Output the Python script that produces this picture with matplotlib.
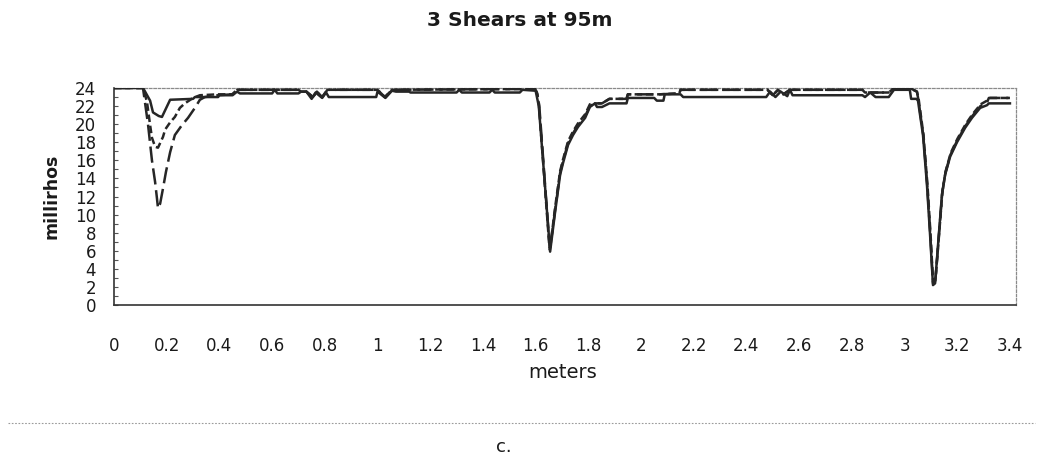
import matplotlib
matplotlib.use("Agg")
import matplotlib.pyplot as plt
from matplotlib.lines import Line2D
from matplotlib.ticker import MultipleLocator, FixedLocator

plt.rcParams['font.family'] = ['DejaVu Sans']

# Conductivity profiles (millirhos) along the sample (meters) for three shears
shear_1_m = [0.0, 0.11, 0.118, 0.137, 0.148, 0.17, 0.182, 0.213, 0.30, 0.307, 0.395, 0.40,
             0.45, 0.467, 0.478, 0.60, 0.61, 0.62, 0.70, 0.71, 0.73, 0.75, 0.765, 0.79, 0.805,
             0.815, 0.995, 1.0, 1.03, 1.055, 1.07, 1.12, 1.125, 1.30, 1.31, 1.32, 1.425, 1.435,
             1.445, 1.54, 1.55, 1.60,
             1.612, 1.655, 1.674, 1.693, 1.704, 1.723, 1.742, 1.761, 1.788, 1.806, 1.825,
             1.833, 1.852, 1.88, 1.945, 1.95, 2.05, 2.06, 2.085, 2.09, 2.15, 2.16, 2.475, 2.49,
             2.51, 2.53, 2.555, 2.565, 2.575, 2.84, 2.85, 2.87, 2.89, 2.94, 2.96, 3.02, 3.025,
             3.045,
             3.051, 3.070, 3.085, 3.097, 3.108, 3.116, 3.127, 3.142, 3.154, 3.173, 3.199,
             3.230, 3.256, 3.287, 3.313, 3.32, 3.40]
shear_1_mS = [24.0, 24.0, 23.6, 22.6, 21.3, 20.9, 20.8, 22.7, 22.8, 23.0, 23.0, 23.2,
              23.2, 23.6, 23.4, 23.4, 23.8, 23.4, 23.4, 23.6, 23.6, 22.8, 23.5, 22.9, 23.5,
              23.0, 23.0, 23.6, 22.9, 23.7, 23.6, 23.6, 23.5, 23.5, 23.8, 23.5, 23.5, 23.8,
              23.5, 23.5, 23.8, 23.7,
              22.0, 5.9, 10.3, 14.4, 15.7, 17.7, 18.8, 19.7, 20.7, 21.9, 22.3,
              21.9, 21.9, 22.3, 22.3, 22.9, 22.9, 22.6, 22.6, 23.3, 23.3, 23.0, 23.0, 23.6,
              23.0, 23.6, 23.1, 23.8, 23.2, 23.2, 23.0, 23.5, 23.0, 23.0, 23.8, 23.8, 22.8,
              22.8,
              22.6, 18.8, 13.3, 7.7, 2.2, 2.4, 6.6, 12.2, 14.4, 16.4, 18.0,
              19.6, 20.7, 21.8, 22.1, 22.3, 22.3]

shear_2_m = [0.0, 0.11, 0.125, 0.137, 0.144, 0.156, 0.167, 0.186, 0.194, 0.213, 0.231, 0.25,
             0.269, 0.30, 0.326, 0.395, 0.448, 0.467, 0.70, 0.71, 0.73, 0.755, 0.77, 0.79,
             0.81, 1.0, 1.028, 1.055, 1.598,
             1.605, 1.612, 1.652, 1.655, 1.674, 1.693, 1.704, 1.723, 1.742, 1.761, 1.788,
             1.806, 1.825,
             1.833, 1.852, 1.88, 1.945, 1.95, 2.07, 2.145, 2.15, 2.48, 2.50, 2.52, 2.54, 2.565,
             2.84, 2.85, 2.94, 2.96, 3.02, 3.047,
             3.053, 3.072, 3.087, 3.099, 3.108, 3.118, 3.129, 3.144, 3.156, 3.175, 3.201,
             3.232, 3.258, 3.289, 3.313, 3.32, 3.40]
shear_2_mS = [24.0, 24.0, 22.5, 19.9, 18.5, 17.5, 17.4, 18.6, 19.4, 20.2, 20.8, 21.8,
              22.3, 22.9, 23.2, 23.3, 23.3, 23.8, 23.8, 23.6, 23.6, 23.0, 23.6, 23.0,
              23.8, 23.8, 23.0, 23.8, 23.9,
              23.5, 22.3, 6.5, 6.3, 10.8, 14.8, 16.1, 18.1, 19.2, 20.1, 21.1,
              22.2, 22.3,
              22.3, 22.3, 22.8, 22.8, 23.3, 23.3, 23.4, 23.8, 23.8, 23.2, 23.8, 23.3, 23.8,
              23.8, 23.5, 23.5, 24.0, 24.0, 23.6,
              22.9, 18.8, 13.3, 7.7, 2.6, 3.0, 7.0, 12.6, 14.8, 16.8, 18.4,
              20.0, 21.1, 22.2, 22.6, 22.9, 22.9]

shear_3_m = [0.0, 0.11, 0.129, 0.144, 0.156, 0.163, 0.167, 0.175, 0.186, 0.197, 0.213, 0.231,
             0.258, 0.281, 0.307, 0.326, 0.345, 0.395, 0.448, 0.467, 0.70, 0.71, 0.73, 0.755,
             0.77, 0.79, 0.81, 1.0, 1.028, 1.055, 1.598,
             1.607, 1.614, 1.654, 1.674, 1.693, 1.704, 1.723, 1.742, 1.761, 1.788, 1.806,
             1.825, 1.852, 1.88, 1.945, 1.95, 2.07, 2.145, 2.15, 2.48, 2.50, 2.52, 2.54, 2.565,
             2.84, 2.85, 2.94, 2.96, 3.02, 3.047,
             3.052, 3.071, 3.086, 3.098, 3.108, 3.117, 3.128, 3.143, 3.155, 3.174, 3.200,
             3.231, 3.257, 3.288, 3.313, 3.32, 3.40]
shear_3_mS = [24.0, 24.0, 20.0, 16.0, 13.6, 11.8, 10.7, 11.2, 12.9, 14.7, 16.9, 18.8,
              19.9, 20.7, 21.8, 22.7, 23.0, 23.2, 23.3, 23.8, 23.8, 23.6, 23.6, 23.0,
              23.6, 23.0, 23.8, 23.8, 23.0, 23.8, 23.9,
              23.3, 22.0, 6.1, 10.5, 14.6, 15.9, 17.9, 19.0, 19.9, 20.9, 22.0,
              22.3, 22.3, 22.8, 22.8, 23.3, 23.3, 23.4, 23.8, 23.8, 23.2, 23.8, 23.3, 23.8,
              23.8, 23.5, 23.5, 24.0, 24.0, 23.6,
              22.8, 18.8, 13.3, 7.7, 2.4, 2.7, 6.8, 12.4, 14.6, 16.6, 18.2,
              19.8, 20.9, 22.0, 22.4, 22.9, 22.9]

x_ticks = [0, 0.2, 0.4, 0.6, 0.8, 1, 1.2, 1.4, 1.6, 1.8, 2, 2.2, 2.4, 2.6, 2.8, 3, 3.2, 3.4]
x_tick_labels = ["0", "0.2", "0.4", "0.6", "0.8", "1", "1.2", "1.4", "1.6", "1.8", "2",
                 "2.2", "2.4", "2.6", "2.8", "3", "3.2", "3.4"]

W, H = 1039, 458
fig = plt.figure(figsize=(W / 100, H / 100), dpi=100)
fig.patch.set_facecolor("white")

left, right, top, bottom = 114, 1016, 88, 305
ax = fig.add_axes([left / W, 1 - bottom / H, (right - left) / W, (bottom - top) / H])

ink = "#262626"
ax.plot(shear_2_m, shear_2_mS, color=ink, lw=1.8, dashes=(3, 1.5), zorder=3)
ax.plot(shear_3_m, shear_3_mS, color=ink, lw=1.8, dashes=(6.5, 2.3), zorder=3)
ax.plot(shear_1_m, shear_1_mS, color=ink, lw=1.8, zorder=4)

ax.set_xlim(0, 3.423)
ax.set_ylim(0, 24)

ax.yaxis.set_major_locator(MultipleLocator(2))
ax.yaxis.set_minor_locator(MultipleLocator(1))
ax.xaxis.set_major_locator(FixedLocator(x_ticks))
ax.set_xticklabels(x_tick_labels)

ax.tick_params(axis="y", which="both", direction="in", length=3, width=0.8,
               color="#555555", labelsize=12, pad=13, labelcolor="#1a1a1a")
ax.tick_params(axis="x", which="both", length=0, labelsize=12, pad=23,
               labelcolor="#1a1a1a")

for side in ("left", "bottom"):
    ax.spines[side].set_color("#333333")
    ax.spines[side].set_linewidth(1.2)
for side in ("top", "right"):
    ax.spines[side].set_color("#8a8a8a")
    ax.spines[side].set_linewidth(0.9)
    ax.spines[side].set_linestyle((0, (2, 1.5)))

fig.text(52 / W, 1 - 196 / H, "millirhos", rotation=90, ha="center", va="center",
         fontsize=12.5, fontweight="bold", color="#1a1a1a")
fig.text(0.5, 1 - 21 / H, "3 Shears at 95m", ha="center", va="center",
         fontsize=14.5, fontweight="bold", color="#1a1a1a")
fig.text(563 / W, 1 - 373 / H, "meters", ha="center", va="center",
         fontsize=14, color="#1a1a1a")
fig.text(504 / W, 1 - 447 / H, "c.", ha="center", va="center",
         fontsize=13, color="#1a1a1a")

# faint separator under the figure
fig.add_artist(Line2D([8 / W, 1035 / W], [1 - 423 / H, 1 - 423 / H],
                      transform=fig.transFigure, color="#9a9a9a", lw=0.8,
                      linestyle=(0, (1.5, 1.5))))

fig.savefig("out.png", dpi=100, facecolor="white")
